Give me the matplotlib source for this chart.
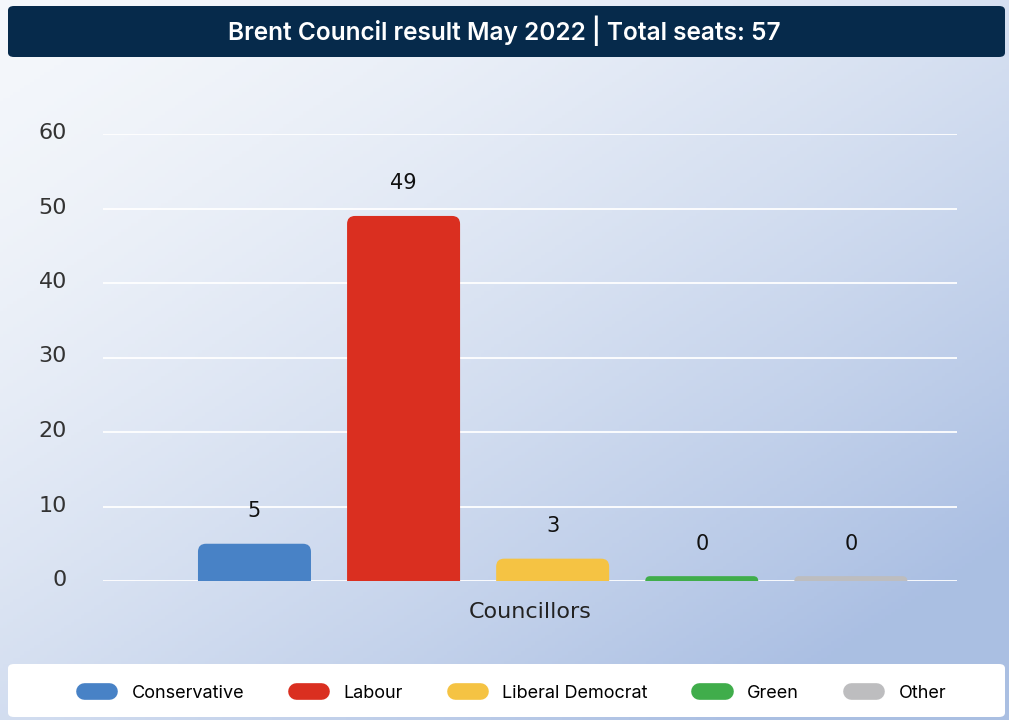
import numpy as np
import matplotlib
matplotlib.use("Agg")
import matplotlib.pyplot as plt
from matplotlib.patches import FancyBboxPatch
from matplotlib.lines import Line2D
from matplotlib.transforms import ScaledTranslation

titulo = "Brent Council result May 2022 | Total seats: 57"
partidos = ["Conservative", "Labour", "Liberal Democrat", "Green", "Other"]
assentos = [5, 49, 3, 0, 0]
cores = ["#4882c6", "#da2f20", "#f5c343", "#40ad4b", "#bdbdbf"]
rotulo_x = "Councillors"
ticks_y = [0, 10, 20, 30, 40, 50, 60]

fig = plt.figure(figsize=(10.09, 7.2), dpi=100)

# fundo em degrade
fundo = fig.add_axes([0, 0, 1, 1], zorder=-10)
xx, yy = np.meshgrid(np.linspace(0, 1, 300), np.linspace(0, 1, 220))
t = np.clip(0.55 * xx + 0.6 * yy, 0, 1) ** 1.5
c0 = np.array([0.96, 0.97, 0.985])
c1 = np.array([0.67, 0.75, 0.89])
img = c0[None, None, :] * (1 - t[..., None]) + c1[None, None, :] * t[..., None]
fundo.imshow(img, aspect="auto", extent=[0, 1, 0, 1], origin="upper")
fundo.set_xlim(0, 1)
fundo.set_ylim(0, 1)
fundo.axis("off")

# faixa do titulo
fig.patches.append(FancyBboxPatch((8 / 1009, 1 - 57 / 720), 997 / 1009, 51 / 720,
                                  boxstyle="round,pad=0,rounding_size=0.006",
                                  transform=fig.transFigure, facecolor="#062a4b",
                                  edgecolor="none", zorder=1))
fig.text(0.5, 1 - 31 / 720, titulo, ha="center", va="center", color="white",
         fontsize=17.6, fontweight="semibold", family="Inter", zorder=2)

# faixa da legenda
fig.patches.append(FancyBboxPatch((8 / 1009, 3 / 720), 997 / 1009, 53 / 720,
                                  boxstyle="round,pad=0,rounding_size=0.006",
                                  transform=fig.transFigure, facecolor="white",
                                  edgecolor="none", zorder=1))

ax = fig.add_axes([103 / 1009, 1 - 581 / 720, 854 / 1009, 447 / 720])
ax.patch.set_alpha(0)
ax.set_xlim(-1.016, 4.712)
ax.set_ylim(0, 60)

largura = 0.758
px_x = 149.1
px_y = 447 / 60
asp = px_x / px_y
for i, (v, c) in enumerate(zip(assentos, cores)):
    h = v if v > 0 else 0.65
    ry = min(8 / px_y, h)
    rx = ry / asp
    barra = FancyBboxPatch((i - largura / 2, -ry), largura, h + ry,
                           boxstyle=f"round,pad=0,rounding_size={rx}",
                           mutation_aspect=asp, facecolor=c, edgecolor="none",
                           zorder=3)
    barra.set_clip_on(True)
    ax.add_patch(barra)
    ax.annotate(str(v), (i, h), xytext=(0, 23.5), textcoords="offset points",
                ha="center", va="center", fontsize=15, color="#111111")

ax.set_yticks(ticks_y)
ax.set_xticks([])
ax.grid(axis="y", color="white", linewidth=1.3, zorder=0)
ax.set_axisbelow(True)
for s in ax.spines.values():
    s.set_visible(False)
ax.tick_params(axis="y", length=0, pad=26, labelsize=16, labelcolor="#333333")
for lab in ax.get_yticklabels():
    lab.set_transform(lab.get_transform() + ScaledTranslation(0, 3 / 100, fig.dpi_scale_trans))
ax.set_xlabel(rotulo_x, fontsize=16, color="#222222", labelpad=15)

alcas = [Line2D([0], [0], color=c, lw=12, solid_capstyle="round") for c in cores]
fig.legend(alcas, partidos, loc="center", bbox_to_anchor=(515 / 1009, 1 - 693 / 720),
           ncol=5, frameon=False, handlelength=1.4,
           handletextpad=1.25, columnspacing=2.85, prop={"family": "Inter", "size": 13})

fig.savefig("out.png", dpi=100)
